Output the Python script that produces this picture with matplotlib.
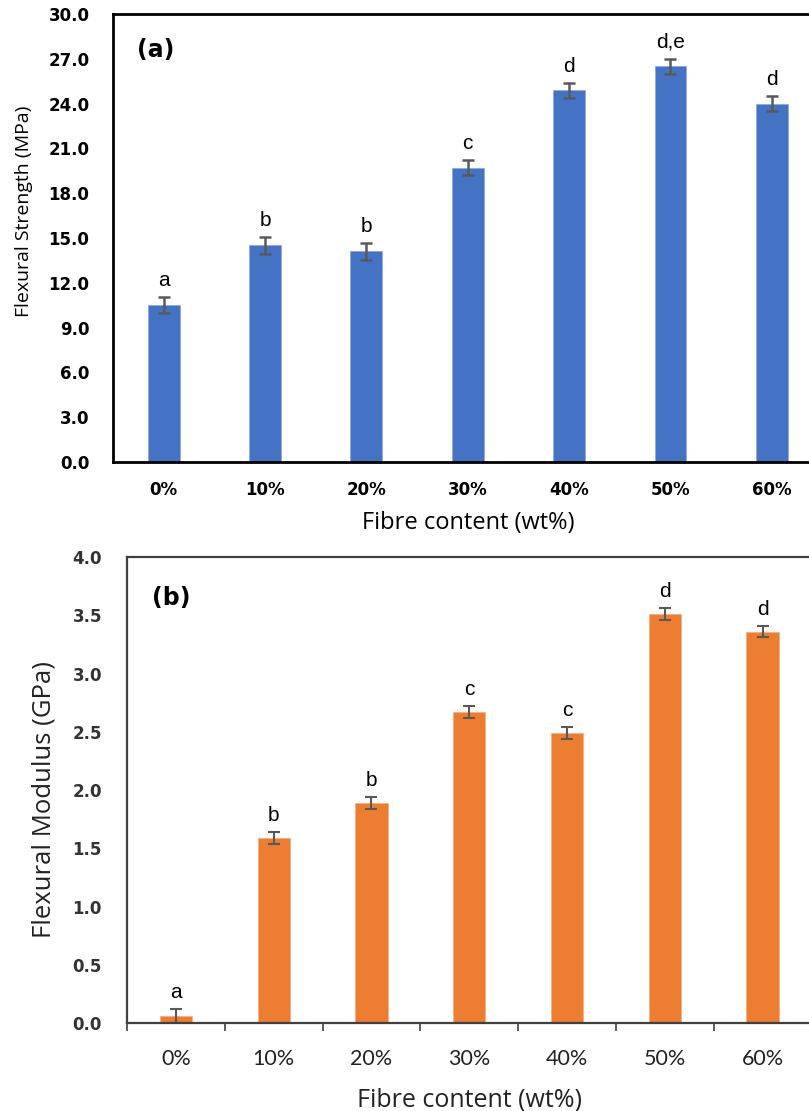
import numpy as np
import matplotlib.pyplot as plt

cats = ['0%', '10%', '20%', '30%', '40%', '50%', '60%']

# (a) flexural strength, MPa
strength = [10.5, 14.5, 14.1, 19.7, 24.9, 26.5, 24.0]
strength_err = [0.55, 0.55, 0.55, 0.5, 0.5, 0.5, 0.5]
strength_grp = ['a', 'b', 'b', 'c', 'd', 'd,e', 'd']

# (b) flexural modulus, GPa
modulus = [0.06, 1.59, 1.89, 2.67, 2.49, 3.51, 3.36]
modulus_err = [0.06, 0.05, 0.05, 0.05, 0.05, 0.05, 0.05]
modulus_grp = ['a', 'b', 'b', 'c', 'c', 'd', 'd']

blue = '#4472C4'
orange = '#ED7D31'
errc = '#595959'

fig = plt.figure(figsize=(8.09, 11.11), dpi=100)
x = np.arange(len(cats))

# ---- panel (a)
ax1 = fig.add_axes([0.1397, 0.5842, 0.877, 0.4032])
ax1.bar(x, strength, width=0.315, color=blue, edgecolor='#8FAADC', linewidth=0.6)
ax1.errorbar(x, strength, yerr=strength_err, fmt='none', ecolor=errc,
             elinewidth=1.8, capsize=4, capthick=1.8)
for i in range(len(cats)):
    ax1.annotate(strength_grp[i], (x[i], strength[i] + strength_err[i]),
                 xytext=(0, 5), textcoords='offset points', ha='center', va='bottom',
                 fontsize=15, family='Liberation Sans')
ax1.set_xlim(-0.5, 6.5)
ax1.set_ylim(0, 30)
ax1.set_yticks(np.arange(0, 30.1, 3))
ax1.set_yticklabels(['%.1f' % v for v in np.arange(0, 30.1, 3)],
                    fontsize=12, fontweight='bold', family='DejaVu Sans')
ax1.set_xticks(x)
ax1.set_xticklabels(cats, fontsize=12, fontweight='bold', family='DejaVu Sans')
ax1.tick_params(length=0, pad=14)
ax1.tick_params(axis='y', pad=17)
for s in ax1.spines.values():
    s.set_linewidth(2)
    s.set_color('black')
ax1.set_xlabel('Fibre content (wt%)', fontsize=17, family='Open Sans', labelpad=8)
ax1.set_ylabel('Flexural Strength (MPa)', fontsize=14, family='Open Sans')
ax1.yaxis.set_label_coords(-0.113, 0.56)
ax1.text(0.034, 0.92, '(a)', transform=ax1.transAxes, fontsize=17, fontweight='bold',
         family='DejaVu Sans', va='center')

# ---- panel (b)
ax2 = fig.add_axes([0.157, 0.0792, 0.846, 0.4194])
ax2.bar(x, modulus, width=0.33, color=orange, edgecolor='#F4B183', linewidth=0.6)
ax2.errorbar(x, modulus, yerr=modulus_err, fmt='none', ecolor=errc,
             elinewidth=1.5, capsize=4, capthick=1.5)
for i in range(len(cats)):
    ax2.annotate(modulus_grp[i], (x[i], modulus[i] + modulus_err[i]),
                 xytext=(0, 5), textcoords='offset points', ha='center', va='bottom',
                 fontsize=15, family='Liberation Sans')
ax2.set_xlim(-0.5, 6.5)
ax2.set_ylim(0, 4)
ax2.set_yticks(np.arange(0, 4.01, 0.5))
ax2.set_yticklabels(['%.1f' % v for v in np.arange(0, 4.01, 0.5)],
                    fontsize=12, fontweight='bold', family='DejaVu Sans', color='#333333')
ax2.set_xticks(x)
ax2.set_xticklabels(cats, fontsize=15.5, family='Lato', color='#222222')
ax2.set_xticks(np.arange(-0.5, 6.5, 1), minor=True)
ax2.tick_params(axis='x', which='major', length=0, pad=19)
ax2.tick_params(axis='x', which='minor', length=6, width=1.2, color='#404040', direction='out')
ax2.tick_params(axis='y', length=0, pad=18)
for s in ax2.spines.values():
    s.set_linewidth(1.6)
    s.set_color('#404040')
ax2.set_xlabel('Fibre content (wt%)', fontsize=18, family='Open Sans', labelpad=13,
               color='#222222')
ax2.set_ylabel('Flexural Modulus (GPa)', fontsize=18.5, family='Open Sans',
               color='#222222')
ax2.yaxis.set_label_coords(-0.103, 0.48)
ax2.text(0.037, 0.912, '(b)', transform=ax2.transAxes, fontsize=17, fontweight='bold',
         family='DejaVu Sans', va='center')

fig.savefig('out.png', dpi=100)
